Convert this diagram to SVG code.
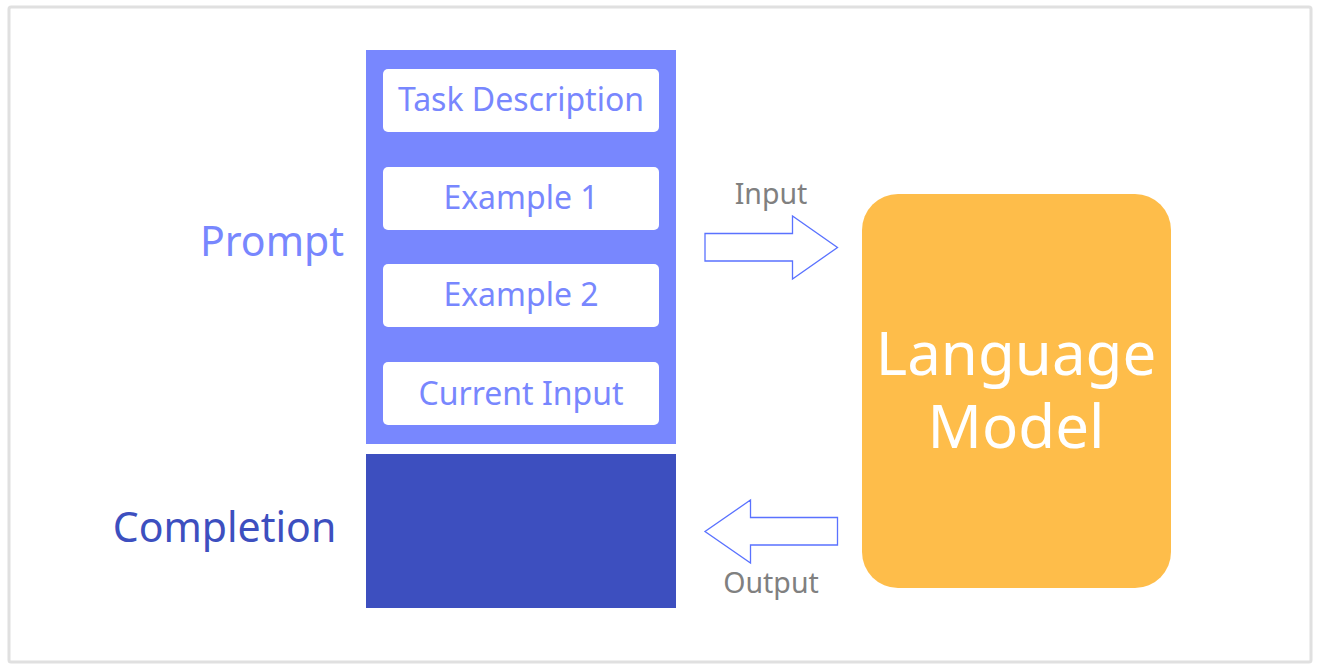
<svg xmlns="http://www.w3.org/2000/svg" width="1320" height="670" viewBox="0 0 1320 670">
<style>
.t{font-family:"Noto Sans","Open Sans","DejaVu Sans",sans-serif;text-anchor:middle}
.box{fill:#ffffff;}
.bt{font-size:32px;fill:#7887fe}
.lab{font-size:28.5px;fill:#808080}
.arr{fill:#ffffff;stroke:#5a72ff;stroke-width:1.3}
</style>
<rect x="0" y="0" width="1320" height="670" fill="#ffffff"/>
<rect id="frame" x="9" y="7" width="1302" height="655" rx="2" fill="#ffffff" stroke="#e0e0e0" stroke-width="3"/>
<g id="prompt">
<rect x="366" y="50" width="310" height="394" fill="#7887fe"/>
<text class="t" x="272" y="256" font-size="41" fill="#7887fe">Prompt</text>
</g>
<g id="task">
<rect class="box" x="383" y="69" width="276" height="63" rx="5"/>
<text class="t bt" x="521" y="111">Task Description</text>
</g>
<g id="ex1">
<rect class="box" x="383" y="167" width="276" height="63" rx="5"/>
<text class="t bt" x="521" y="209">Example 1</text>
</g>
<g id="ex2">
<rect class="box" x="383" y="264" width="276" height="63" rx="5"/>
<text class="t bt" x="521" y="306">Example 2</text>
</g>
<g id="cur">
<rect class="box" x="383" y="362" width="276" height="63" rx="5"/>
<text class="t bt" x="521" y="405">Current Input</text>
</g>
<g id="completion">
<rect x="366" y="454" width="310" height="154" fill="#3d4fbf"/>
<text class="t" x="224.5" y="542" font-size="41" fill="#3d4fbf">Completion</text>
</g>
<g id="lm">
<rect x="862" y="194" width="309" height="394" rx="36" fill="#febd4a"/>
<text class="t" x="1016" y="375" font-size="60" fill="#ffffff">Language</text>
<text class="t" x="1016" y="448" font-size="60" fill="#ffffff">Model</text>
</g>
<g id="connectors">
<path class="arr" d="M705,233.5 H792.5 V216 L837.5,247.5 L792.5,279 V261 H705 Z"/>
<text class="t lab" x="771" y="204">Input</text>
<path class="arr" d="M837.5,517.5 H750.5 V500 L705,531.5 L750.5,563 V545 H837.5 Z"/>
<text class="t lab" x="771" y="593">Output</text>
</g>
</svg>
